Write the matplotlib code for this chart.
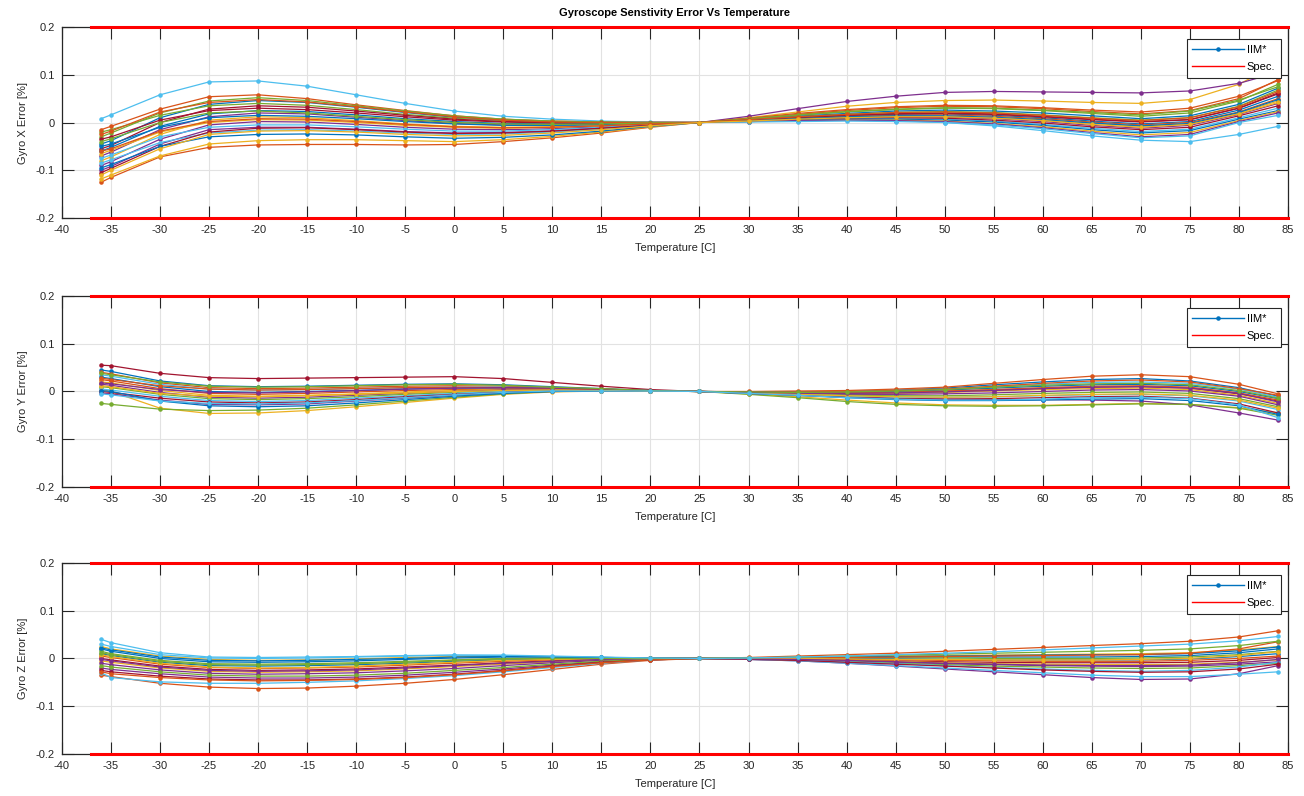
import matplotlib
matplotlib.use("Agg")
import matplotlib.pyplot as plt

plt.rcParams['font.family'] = ['Liberation Sans', 'DejaVu Sans']
plt.rcParams['axes.unicode_minus'] = False

# temperature steps [C]
temps = [-36, -35, -30, -25, -20, -15, -10, -5, 0, 5, 10, 15, 20, 25,
         30, 35, 40, 45, 50, 55, 60, 65, 70, 75, 80, 84]

# sensitivity error per unit, in 0.001 %
gyro_x = [
    [-45, -38, 10, 38, 46, 42, 32, 21, 11, 5, 2, 0, 0, 0, 5, 10, 14, 17, 18, 15, 10, 3, -3, 2, 26, 55],
    [-125, -115, -72, -52, -47, -46, -46, -47, -46, -40, -32, -22, -10, 0, 4, 9, 13, 15, 16, 13, 8, 1, -5, 0, 22, 50],
    [-118, -110, -70, -45, -38, -36, -36, -38, -40, -36, -29, -20, -9, 0, 10, 22, 34, 42, 46, 47, 45, 42, 40, 48, 80, 123],
    [-90, -82, -35, -5, 2, 1, -4, -10, -14, -15, -13, -9, -4, 0, 13, 29, 44, 55, 63, 65, 64, 63, 62, 66, 82, 105],
    [-20, -15, 15, 35, 40, 36, 27, 17, 9, 4, 1, 0, 0, 0, 7, 15, 22, 27, 30, 29, 25, 19, 13, 20, 45, 80],
    [8, 16, 58, 85, 87, 76, 58, 40, 24, 13, 7, 3, 1, 0, 2, 4, 5, 4, 0, -7, -17, -28, -37, -40, -25, -8],
    [-55, -48, 0, 28, 35, 32, 24, 15, 7, 2, 0, -1, 0, 0, 5, 11, 16, 19, 20, 18, 13, 7, 2, 6, 30, 62],
    [-60, -52, -8, 18, 25, 23, 16, 8, 2, -2, -3, -2, -1, 0, 6, 13, 19, 24, 26, 24, 20, 14, 8, 14, 38, 72],
    [-15, -8, 28, 54, 58, 50, 37, 25, 14, 7, 3, 1, 0, 0, 8, 17, 25, 31, 34, 33, 29, 23, 18, 25, 50, 90],
    [-80, -72, -25, 5, 12, 10, 4, -3, -8, -10, -9, -6, -3, 0, 4, 8, 11, 13, 13, 10, 5, -2, -8, -3, 20, 45],
    [-70, -62, -15, 12, 20, 18, 11, 4, -2, -5, -5, -4, -2, 0, 3, 7, 10, 11, 11, 8, 2, -6, -12, -6, 17, 40],
    [-30, -22, 20, 45, 52, 46, 35, 24, 14, 7, 3, 1, 0, 0, 6, 12, 17, 21, 23, 21, 16, 10, 5, 10, 34, 68],
    [-75, -68, -30, -10, -5, -5, -9, -14, -18, -18, -15, -10, -5, 0, 3, 6, 8, 8, 7, 3, -4, -12, -19, -14, 10, 30],
    [-35, -30, 5, 25, 30, 27, 20, 12, 5, 1, -1, -1, 0, 0, 3, 6, 9, 10, 9, 5, -1, -9, -15, -10, 14, 35],
    [-50, -45, -10, 10, 15, 13, 8, 2, -3, -6, -6, -5, -2, 0, 2, 5, 7, 7, 5, 1, -6, -15, -22, -17, 7, 25],
    [-25, -18, 22, 42, 48, 43, 33, 22, 12, 5, 1, 0, 0, 0, 9, 19, 27, 33, 36, 35, 31, 26, 22, 30, 55, 88],
    [-65, -58, -20, 0, 6, 5, 0, -6, -10, -12, -10, -7, -3, 0, 2, 4, 5, 5, 3, -2, -9, -18, -26, -21, 4, 23],
    [-100, -92, -45, -15, -10, -10, -14, -19, -22, -21, -18, -12, -6, 0, 2, 4, 5, 4, 2, -3, -11, -21, -30, -25, 2, 20],
    [-40, -34, 0, 20, 24, 20, 13, 6, 0, -3, -4, -3, -1, 0, 8, 16, 23, 28, 31, 30, 26, 21, 16, 24, 47, 75],
    [-85, -78, -42, -22, -16, -15, -18, -22, -25, -24, -20, -14, -7, 0, 1, 2, 3, 2, 0, -5, -13, -23, -32, -28, 0, 15],
    [-105, -96, -50, -20, -12, -11, -15, -20, -23, -22, -18, -12, -6, 0, 5, 10, 15, 18, 19, 17, 12, 6, 1, 6, 30, 60],
    [-95, -88, -50, -30, -25, -24, -26, -30, -33, -31, -26, -18, -8, 0, 4, 8, 12, 14, 14, 11, 6, -1, -7, -2, 21, 48],
    [-60, -55, -18, 2, 8, 7, 2, -4, -9, -11, -10, -7, -3, 0, 6, 12, 17, 21, 22, 20, 15, 9, 4, 10, 33, 65],
    [-110, -100, -55, -25, -18, -17, -20, -25, -28, -27, -22, -15, -7, 0, 3, 7, 10, 12, 12, 9, 4, -4, -10, -4, 18, 42],
]

gyro_y = [
    [45, 42, 22, 12, 10, 11, 13, 15, 16, 14, 10, 6, 2, 0, -1, -1, 0, 3, 7, 14, 20, 25, 27, 22, 8, -10],
    [40, 37, 18, 8, 6, 7, 9, 11, 12, 11, 8, 5, 2, 0, 0, 1, 2, 5, 9, 17, 25, 32, 35, 31, 15, -5],
    [5, 0, -35, -46, -45, -40, -32, -23, -14, -6, -1, 1, 1, 0, -5, -11, -18, -24, -28, -29, -29, -27, -25, -27, -34, -45],
    [-3, -5, -18, -27, -28, -26, -20, -14, -8, -3, 0, 1, 1, 0, -3, -7, -11, -14, -16, -17, -17, -18, -20, -28, -45, -60],
    [-25, -27, -37, -40, -39, -35, -28, -20, -12, -5, 0, 1, 1, 0, -6, -13, -21, -27, -30, -31, -30, -28, -26, -27, -35, -50],
    [35, 32, 15, 5, 3, 4, 6, 8, 9, 9, 7, 4, 2, 0, -1, -2, -1, 2, 5, 10, 15, 19, 20, 17, 5, -12],
    [55, 54, 38, 29, 27, 28, 29, 30, 31, 27, 19, 11, 4, 0, -2, -3, -3, -2, 0, 3, 6, 9, 10, 7, -5, -20],
    [30, 27, 10, 0, -2, 0, 2, 5, 7, 7, 6, 4, 2, 0, -1, -2, -2, 0, 3, 7, 11, 14, 15, 12, 0, -15],
    [25, 22, 6, -4, -6, -4, -1, 2, 4, 5, 5, 3, 1, 0, -2, -3, -3, -2, 1, 4, 8, 11, 12, 9, -3, -18],
    [20, 18, 2, -8, -10, -8, -5, -1, 2, 4, 4, 3, 1, 0, -2, -4, -5, -4, -2, 1, 4, 6, 7, 4, -8, -25],
    [15, 13, -2, -12, -14, -12, -8, -4, 0, 3, 3, 2, 1, 0, -2, -4, -6, -6, -5, -3, 0, 3, 4, 1, -10, -28],
    [10, 8, -6, -15, -17, -15, -11, -6, -2, 1, 2, 2, 1, 0, -3, -6, -8, -9, -9, -7, -4, -2, -1, -4, -15, -32],
    [5, 3, -10, -19, -21, -19, -14, -9, -4, 0, 2, 2, 1, 0, -3, -7, -10, -12, -12, -11, -9, -7, -6, -9, -20, -38],
    [0, -2, -14, -22, -24, -22, -17, -11, -6, -2, 1, 1, 1, 0, -4, -8, -12, -15, -16, -15, -13, -11, -10, -14, -26, -45],
    [2, 0, -20, -30, -32, -30, -24, -17, -10, -4, 0, 1, 1, 0, -4, -8, -13, -17, -19, -19, -18, -16, -15, -19, -30, -48],
    [28, 25, 12, 5, 3, 4, 6, 8, 9, 8, 6, 4, 2, 0, -1, -1, 0, 2, 5, 11, 17, 22, 24, 20, 6, -8],
    [12, 10, -4, -10, -11, -9, -6, -3, 0, 2, 3, 2, 1, 0, -3, -6, -9, -11, -12, -11, -8, -6, -5, -8, -18, -35],
    [18, 16, 4, -2, -3, -1, 2, 5, 7, 8, 7, 5, 2, 0, -2, -3, -4, -3, -1, 2, 6, 9, 10, 7, -4, -22],
    [38, 35, 20, 11, 9, 10, 12, 14, 15, 13, 9, 6, 2, 0, -1, -2, -1, 1, 4, 9, 13, 16, 17, 14, 2, -14],
    [-5, -7, -20, -25, -26, -24, -19, -13, -7, -2, 1, 1, 1, 0, -4, -8, -13, -16, -18, -18, -16, -13, -12, -15, -28, -55],
]

gyro_z = [
    [20, 15, 0, -7, -8, -7, -5, -2, 1, 3, 3, 2, 1, 0, 0, 1, 2, 3, 3, 3, 3, 3, 4, 6, 12, 20],
    [-35, -38, -52, -60, -63, -62, -58, -52, -44, -34, -23, -12, -4, 0, 2, 5, 8, 11, 15, 19, 23, 27, 31, 36, 45, 58],
    [25, 20, 5, -2, -4, -3, -1, 2, 4, 5, 4, 2, 1, 0, 1, 2, 4, 5, 6, 7, 8, 9, 10, 12, 18, 25],
    [-20, -23, -32, -39, -41, -41, -39, -35, -29, -22, -14, -7, -2, 0, -2, -5, -10, -16, -22, -28, -34, -40, -44, -43, -32, -15],
    [15, 10, -4, -11, -12, -11, -9, -6, -3, 0, 1, 1, 1, 0, 0, 0, 1, 1, 1, 0, 0, 0, 1, 3, 8, 15],
    [40, 33, 12, 3, 2, 3, 4, 6, 7, 6, 4, 2, 1, 0, -2, -5, -10, -15, -20, -25, -30, -35, -38, -38, -33, -28],
    [0, -3, -16, -23, -25, -24, -22, -18, -14, -9, -5, -2, 0, 0, -1, -2, -3, -5, -7, -8, -9, -9, -9, -8, -4, 2],
    [10, 6, -8, -15, -16, -15, -13, -10, -6, -3, -1, 0, 0, 0, 0, 0, 0, -1, -2, -3, -3, -3, -3, -1, 4, 10],
    [5, 2, -12, -19, -21, -20, -18, -14, -10, -6, -3, -1, 0, 0, 0, -1, -2, -3, -4, -5, -6, -6, -6, -4, 0, 5],
    [-5, -8, -20, -27, -29, -28, -26, -22, -17, -12, -7, -3, -1, 0, -1, -2, -4, -6, -9, -11, -12, -13, -13, -12, -8, -3],
    [-10, -13, -24, -31, -33, -32, -30, -26, -21, -15, -9, -4, -1, 0, -1, -3, -5, -8, -11, -13, -15, -16, -17, -16, -12, -7],
    [-15, -18, -28, -35, -37, -37, -35, -31, -25, -19, -12, -6, -2, 0, -1, -3, -6, -10, -13, -16, -18, -20, -21, -20, -15, -10],
    [-30, -40, -49, -52, -52, -50, -47, -42, -36, -28, -19, -10, -3, 0, -1, -3, -7, -11, -15, -19, -22, -25, -27, -25, -18, -8],
    [-25, -28, -37, -43, -45, -45, -43, -39, -33, -25, -16, -8, -3, 0, -2, -4, -8, -12, -16, -20, -24, -27, -29, -28, -22, -12],
    [22, 18, 3, -4, -5, -4, -2, 0, 3, 4, 3, 2, 1, 0, 1, 2, 3, 4, 5, 6, 7, 8, 8, 10, 16, 24],
    [-28, -32, -40, -45, -47, -46, -44, -40, -34, -26, -17, -9, -3, 0, 0, 1, 2, 3, 4, 5, 6, 7, 8, 11, 20, 35],
    [8, 4, -10, -18, -20, -19, -16, -12, -8, -4, -2, -1, 0, 0, 0, 0, -1, -2, -2, -3, -3, -3, -2, 0, 6, 14],
    [-2, -5, -18, -25, -27, -26, -24, -20, -15, -10, -6, -2, 0, 0, -1, -2, -4, -7, -10, -12, -14, -15, -15, -14, -9, -2],
    [12, 8, -6, -13, -14, -13, -11, -8, -4, -1, 0, 0, 0, 0, 1, 3, 5, 7, 9, 11, 13, 15, 17, 20, 27, 36],
    [30, 25, 8, 1, 0, 1, 3, 5, 7, 7, 5, 3, 1, 0, 1, 3, 5, 8, 11, 14, 18, 22, 26, 30, 37, 46],
]

spec_temp = [-37, 85]
spec_limit = 0.2

panels = [("Gyro X Error [%]", gyro_x), ("Gyro Y Error [%]", gyro_y), ("Gyro Z Error [%]", gyro_z)]

matlab_colors = ['#0072BD', '#D95319', '#EDB120', '#7E2F8E', '#77AC30', '#4DBEEE', '#A2142F']
dark = '#262626'

fig = plt.figure(figsize=(13.04, 7.96), dpi=100)
bottoms = [0.7261, 0.3882, 0.0528]

for i, (ylab, data) in enumerate(panels):
    ax = fig.add_axes([0.0475, bottoms[i], 0.9402, 0.2400])
    handle = None
    for k, row in enumerate(data):
        vals = [v / 1000 for v in row]
        ln, = ax.plot(temps, vals, '-', marker='.', color=matlab_colors[k % 7],
                      lw=0.9, ms=4.5, zorder=3)
        if k == 0:
            handle = ln
    sp, = ax.plot(spec_temp, [spec_limit, spec_limit], color='#FF0000', lw=2.2,
                  zorder=4, clip_on=False)
    ax.plot(spec_temp, [-spec_limit, -spec_limit], color='#FF0000', lw=2.2,
            zorder=4, clip_on=False)

    ax.set_xlim(-40, 85)
    ax.set_ylim(-0.2, 0.2)
    ax.set_xticks(range(-40, 86, 5))
    ax.set_yticks([-0.2, -0.1, 0, 0.1, 0.2])
    ax.set_yticklabels(['-0.2', '-0.1', '0', '0.1', '0.2'])
    ax.grid(True, color='#e2e2e2', lw=0.8)
    ax.set_axisbelow(True)
    ax.tick_params(direction='in', length=8.5, width=0.8, colors=dark,
                   labelsize=8, top=True, right=True, pad=5)
    for s in ax.spines.values():
        s.set_color(dark)
        s.set_linewidth(0.9)
    ax.set_xlabel("Temperature [C]", fontsize=8, color=dark, labelpad=6)
    ax.set_ylabel(ylab, fontsize=8, color=dark, labelpad=6)

    leg = ax.legend([handle, sp], ['IIM*', 'Spec.'], loc='upper right',
                    bbox_to_anchor=(0.9943, 0.937), borderaxespad=0, fontsize=8,
                    handlelength=4.6, handletextpad=0.3, fancybox=False,
                    framealpha=1, borderpad=0.5, labelspacing=0.7)
    leg.get_frame().set_edgecolor(dark)
    leg.get_frame().set_linewidth(0.8)
    for h in leg.legend_handles:
        h.set_linewidth(1.0)
    if i == 0:
        ax.set_title("Gyroscope Senstivity Error Vs Temperature", fontsize=8,
                     fontweight='bold', color='black', pad=8)

fig.savefig("out.png", dpi=100)
